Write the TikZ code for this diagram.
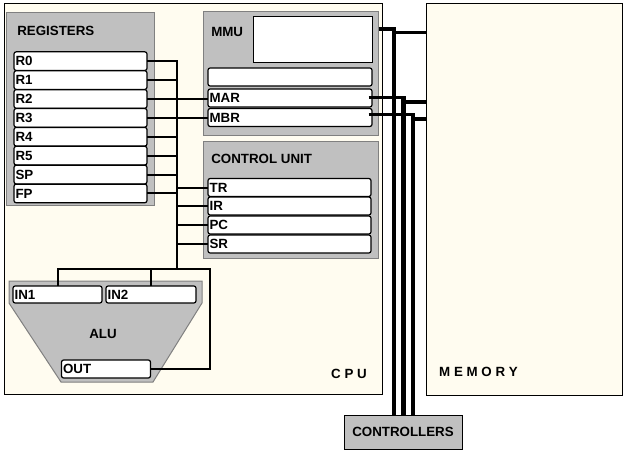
\documentclass[tikz,border=0pt]{standalone}
\usepackage{fontspec}
\setmainfont{Liberation Sans}
\usetikzlibrary{calc}
\definecolor{cream}{HTML}{FFFCF0}
\definecolor{panel}{HTML}{C0C0C0}
\definecolor{edge}{HTML}{808080}
\tikzset{
  lbl/.style={font=\bfseries\fontsize{10}{12}\selectfont},
  sized/.style 2 args={minimum width=#1*0.75pt, minimum height=#2*0.75pt, inner sep=0pt},
  unitbox/.style={draw=black, line width=0.75pt, fill=cream},
  groupbox/.style={draw=edge, line width=0.75pt, fill=panel},
  rowbox/.style 2 args={lbl, draw=black, fill=white, line width=0.9pt, rounded corners=1.6pt,
      inner xsep=1.2pt, inner ysep=0pt, text width=#1, align=left, minimum height=#2},
  wire/.style={line width=1.5pt, line cap=rect},
  hbus/.style={line width=2.3pt},
  vbus/.style={line width=3.5pt},
}
\begin{document}
\begin{tikzpicture}[x=0.75pt,y=-0.75pt]
\useasboundingbox (0,0) rectangle (627,453);
\fill[white] (0,0) rectangle (627,453);
% main units
\node[unitbox, sized={378}{390}] (cpu) at (193,199) {};
\node[unitbox, sized={196}{391}] (mem) at (524,199.5) {};
% groups
\node[groupbox, sized={148}{192}] (regs) at (80,109) {};
\node[groupbox, sized={175}{123}] (mmu) at (290.5,73.5) {};
\node[groupbox, sized={175}{117}] (cu) at (290.5,199.5) {};
\filldraw[fill=panel, draw=edge, line width=0.75pt]
  (9,281) -- (202,281) -- (202,303) -- (153,382) -- (61,382) -- (9,303) -- cycle;
\node[draw=black, fill=white, line width=0.75pt, sized={119}{46}] (mmuin) at (312.5,40) {};
% titles
\node[lbl, anchor=west, inner sep=0pt] (regT) at (17,31) {REGISTERS};
\node[lbl, anchor=west, inner sep=0pt] (mmuT) at (211,31.5) {MMU};
\node[lbl, anchor=west, inner sep=0pt] (cuT) at (211,159) {CONTROL UNIT};
\node[lbl] (aluT) at (103,334) {ALU};
\node[lbl] (cpuT) at (349,374) {C P U};
\node[lbl] (memT) at (478.5,372) {M E M O R Y};
% register rows
\node[rowbox={97.35pt}{13.95pt}] (R0) at (80.5,61.15) {R0};
\node[rowbox={97.35pt}{13.95pt}] (R1) at (80.5,80.05) {R1};
\node[rowbox={97.35pt}{13.95pt}] (R2) at (80.5,98.95) {R2};
\node[rowbox={97.35pt}{13.95pt}] (R3) at (80.5,117.85) {R3};
\node[rowbox={97.35pt}{13.95pt}] (R4) at (80.5,136.75) {R4};
\node[rowbox={97.35pt}{13.95pt}] (R5) at (80.5,155.65) {R5};
\node[rowbox={97.35pt}{13.95pt}] (SP) at (80.5,174.55) {SP};
\node[rowbox={97.35pt}{13.95pt}] (FP) at (80.5,193.45) {FP};
% MMU rows
\node[rowbox={120.6pt}{13.5pt}] (blank) at (290,77) {};
\node[rowbox={120.6pt}{13.5pt}] (MAR) at (290,98) {MAR};
\node[rowbox={120.6pt}{13.5pt}] (MBR) at (290,117.5) {MBR};
% control unit rows
\node[rowbox={119.85pt}{13.5pt}] (TR) at (289.5,187.5) {TR};
\node[rowbox={119.85pt}{13.5pt}] (IR) at (289.5,206) {IR};
\node[rowbox={119.85pt}{13.5pt}] (PC) at (289.5,225) {PC};
\node[rowbox={119.85pt}{13.5pt}] (SR) at (289.5,244) {SR};
% ALU registers
\node[rowbox={64.35pt}{12.75pt}] (IN1) at (57.5,294.5) {IN1};
\node[rowbox={65.1pt}{12.75pt}] (IN2) at (151,294.5) {IN2};
\node[rowbox={64.35pt}{13.5pt}] (OUT) at (106,369) {OUT};
% controllers
\node[lbl, draw=black, fill=panel, line width=0.75pt, sized={118}{34}] (ctl) at (403,432) {CONTROLLERS};
% internal wires
\coordinate (rb) at (177,61);
\coordinate (ab) at (210,269);
\foreach \r in {R0,R1,R4,R5,SP,FP} \draw[wire] (\r.east) -- (\r.east -| rb);
\draw[wire] (R2.east) -- (R2.east -| MAR.west);
\draw[wire] (R3.east) -- (R3.east -| MBR.west);
\foreach \r in {TR,IR,PC,SR} \draw[wire] (\r.west) -- (\r.west -| rb);
\draw[wire] (R0.east -| rb) -- (rb |- ab);
\draw[wire] (IN1.north) -- (IN1.north |- ab) -- (ab) |- (OUT.east);
\draw[wire] (IN2.north) -- (IN2.north |- ab);
% system buses
\coordinate (b1) at (394,29);
\coordinate (b2) at (403.5,97.5);
\coordinate (b3) at (413,114.5);
\coordinate (m1) at (394,32.5);
\coordinate (m2) at (403.5,102);
\coordinate (m3) at (413,119);
\draw[hbus] (mmu.east |- b1) -- ($(b1)+(2.3,0)$);
\draw[vbus] ($(b1)+(0,-1.5)$) -- (b1 |- ctl.north);
\draw[hbus] (m1) -- ($(m1 -| mem.west)+(1.5,0)$);
\draw[hbus] ($(MAR.east |- b2)+(-4,0)$) -- ($(b2)+(2.3,0)$);
\draw[vbus] ($(b2)+(0,-1.5)$) -- (b2 |- ctl.north);
\draw[hbus] (m2) -- ($(m2 -| mem.west)+(1.5,0)$);
\draw[hbus] ($(MBR.east |- b3)+(-4,0)$) -- ($(b3)+(2.3,0)$);
\draw[vbus] ($(b3)+(0,-1.5)$) -- (b3 |- ctl.north);
\draw[hbus] (m3) -- ($(m3 -| mem.west)+(1.5,0)$);
\end{tikzpicture}
\end{document}
